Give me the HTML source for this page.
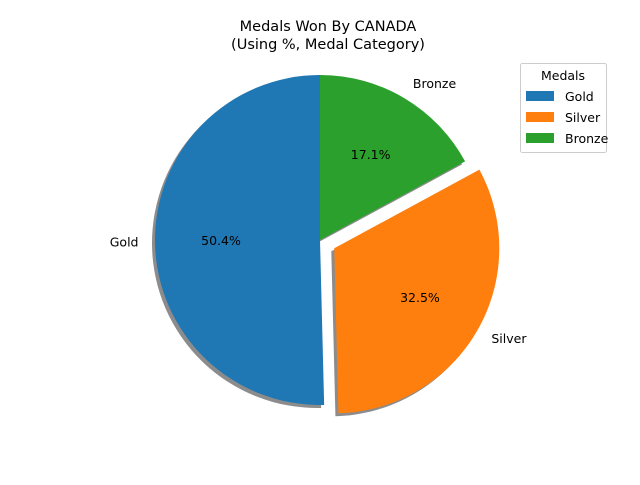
<!DOCTYPE html>
<html><head><meta charset="utf-8"><style>
body{margin:0;background:#fff;}
svg{font-family:"DejaVu Sans","Liberation Sans",sans-serif;}
</style></head><body>
<svg id="chart" width="640" height="480">
<rect width="640" height="480" fill="#fff"/>
<text x="328" y="31" text-anchor="middle" font-size="14.5">Medals Won By CANADA</text>
<text x="328" y="49" text-anchor="middle" font-size="14.5">(Using %,  Medal Category)</text>
<g id="shadows"></g><g id="wedges"></g><g id="labels"></g>
<g>
<rect x="520.5" y="63.5" width="86" height="89" rx="2" fill="#fff" stroke="#ccc"/>
<text x="563" y="80" text-anchor="middle" font-size="12.5">Medals</text>
<g id="legend-items"></g>
</g>
</svg>
<script>
const categories=["Gold","Silver","Bronze"];
const values=[50.4,32.5,17.1];
const colors=["#1f77b4","#ff7f0e","#2ca02c"];
const explode=[0,0.1,0];
const NS="http://www.w3.org/2000/svg";
const cx=320,cy=240,R=165;
const total=values.reduce((a,b)=>a+b,0);
function mk(t,a){const e=document.createElementNS(NS,t);for(const k in a)e.setAttribute(k,a[k]);return e;}
let ang=90;
values.forEach((v,i)=>{
  const sweep=v/total*360,a0=ang,a1=ang+sweep,mid=(a0+a1)/2*Math.PI/180;
  ang=a1;
  const ox=cx+explode[i]*R*Math.cos(mid),oy=cy-explode[i]*R*Math.sin(mid);
  const p=(ox,oy)=>{const r0=a0*Math.PI/180,r1=a1*Math.PI/180;
    return `M${ox},${oy} L${ox+R*Math.cos(r0)},${oy-R*Math.sin(r0)} A${R},${R} 0 ${sweep>180?1:0} 0 ${ox+R*Math.cos(r1)},${oy-R*Math.sin(r1)} Z`;};
  const sh=mk("path",{d:p(ox-3,oy+3),fill:"#000",opacity:"0.45"});
  
  
  document.getElementById("shadows").appendChild(sh);
  const w=mk("path",{d:p(ox,oy),fill:colors[i]});
  
  
  document.getElementById("wedges").appendChild(w);
  const lx=ox+1.1*R*Math.cos(mid),ly=oy-1.1*R*Math.sin(mid);
  const lab=mk("text",{x:lx,y:ly+4,"font-size":"12.5","text-anchor":Math.cos(mid)<0?"end":"start"});
  lab.textContent=categories[i];
  
  
  document.getElementById("labels").appendChild(lab);
  const pt=mk("text",{x:ox+0.6*R*Math.cos(mid),y:oy-0.6*R*Math.sin(mid)+4,"font-size":"12.5","text-anchor":"middle"});
  pt.textContent=v.toFixed(1)+"%";
  
  
  document.getElementById("labels").appendChild(pt);
  const ly2=91+i*21;
  const sw=mk("rect",{x:526,y:ly2,width:28,height:10,fill:colors[i]});
  
  
  document.getElementById("legend-items").appendChild(sw);
  const lt=mk("text",{x:565,y:ly2+10,"font-size":"12.5"});
  lt.textContent=categories[i];
  
  
  document.getElementById("legend-items").appendChild(lt);
});
</script>
</body></html>
